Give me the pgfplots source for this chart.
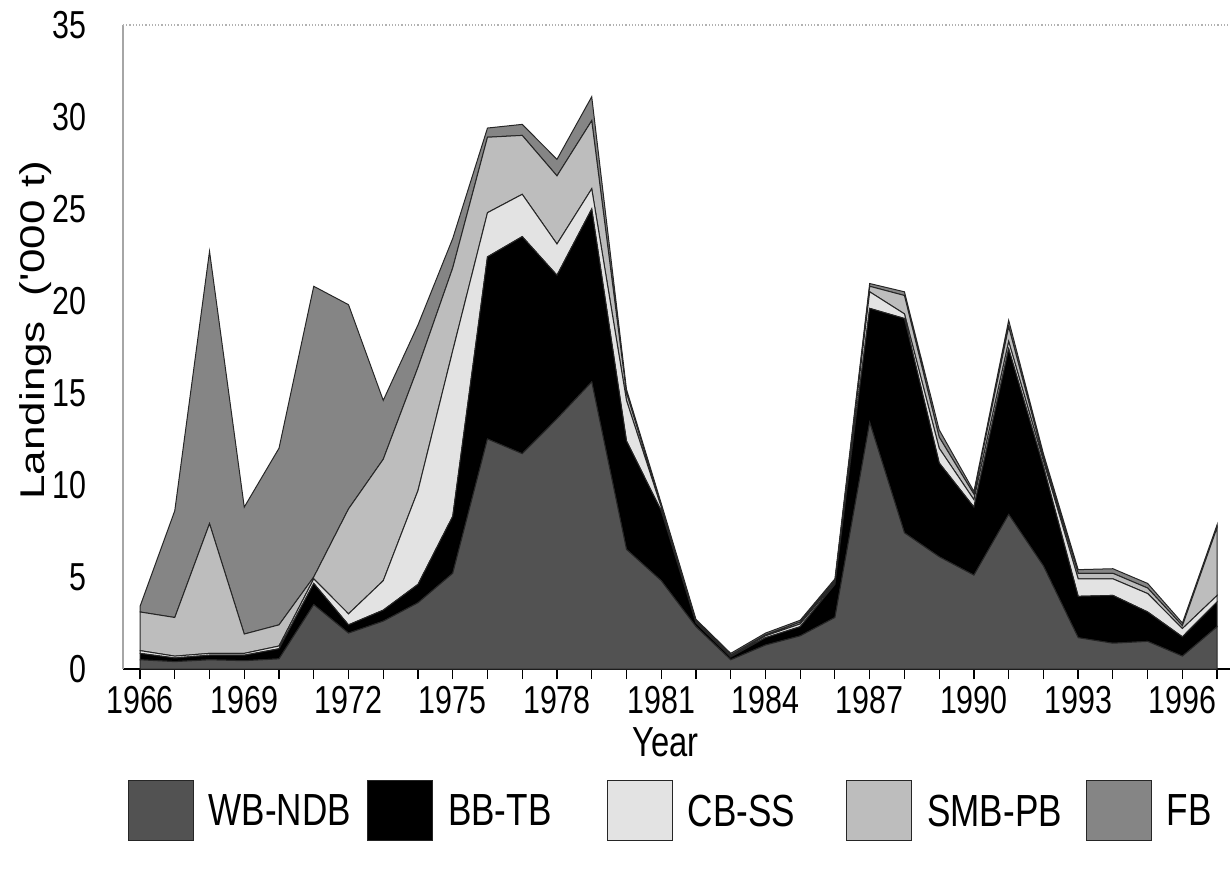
\documentclass[border=0pt]{standalone}
\usepackage{graphicx}
\usepackage{fontspec}
\setmainfont{Liberation Sans}[FakeStretch=0.78]
\newfontfamily\plainfont{Liberation Sans}
\usepackage{pgfplots}
\usepackage{pgfplotstable}
\pgfplotsset{compat=1.18}

\definecolor{wbcol}{gray}{0.32}
\definecolor{cbcol}{gray}{0.89}
\definecolor{smbcol}{gray}{0.74}
\definecolor{fbcol}{gray}{0.52}

% landings by area ('000 t), stacked bottom to top
\pgfplotstableread{
year wb   bb    cb   smb  fb
1966 0.5  0.35  0.15 2.1  0.3
1967 0.4  0.2   0.1  2.1  5.8
1968 0.5  0.25  0.1  7.05 14.8
1969 0.45 0.3   0.1  1.05 6.9
1970 0.55 0.55  0.15 1.15 9.6
1971 3.5  1.15  0.25 0.1  15.8
1972 1.95 0.45  0.6  5.7  11.1
1973 2.6  0.6   1.6  6.6  3.2
1974 3.6  1.0   5.1  6.7  2.3
1975 5.2  3.1   9.0  4.5  1.6
1976 12.5 9.9   2.4  4.1  0.5
1977 11.7 11.8  2.3  3.2  0.6
1978 13.6 7.8   1.7  3.7  0.9
1979 15.6 9.4   1.1  3.7  1.3
1980 6.5  5.9   2.2  0.4  0.2
1981 4.8  3.8   0.2  0.1  0.1
1982 2.3  0.2   0.05 0.05 0.1
1983 0.5  0.15  0.05 0.05 0.1
1984 1.3  0.4   0.1  0.05 0.1
1985 1.8  0.5   0.15 0.1  0.1
1986 2.8  1.8   0.1  0.1  0.1
1987 13.4 6.2   0.9  0.3  0.15
1988 7.4  11.65 0.25 1.0  0.2
1989 6.1  5.1   0.8  0.6  0.4
1990 5.1  3.7   0.4  0.3  0.15
1991 8.4  9.0   0.4  0.8  0.35
1992 5.6  5.4   0.3  0.2  0.2
1993 1.7  2.25  0.95 0.3  0.2
1994 1.4  2.6   0.9  0.3  0.25
1995 1.5  1.6   1.0  0.3  0.25
1996 0.7  1.05  0.45 0.15 0.15
1997 2.3  1.35  0.35 3.7  0.15
}\landings

\begin{document}
\begin{tikzpicture}
\useasboundingbox (-61.5pt,-100pt) rectangle (553.5pt,334.5pt);
\begin{axis}[
    scale only axis,
    width=553.5pt, height=322pt,
    at={(0,0)}, anchor=south west,
    xmin=1965.51, xmax=1997.37,
    ymin=0, ymax=35,
    clip=false,
    axis lines*=left,
    x axis line style={black, line width=0.8pt},
    y axis line style={gray!70, line width=0.5pt},
    xtick={1966,1969,...,1996},
    minor xtick={1966,...,1997},
    ytick={0,5,...,35},
    tick align=outside,
    major tick length=5pt, minor tick length=5pt,
    xtick style={black, line width=0.6pt},
    minor tick style={black, line width=0.6pt},
    ytick style={draw=none},
    /pgf/number format/1000 sep={},
    /pgf/number format/assume math mode=true,
    tick label style={font=\fontsize{19.5}{23}\selectfont},
    yticklabel style={xshift=-10pt},
    xlabel={Year},
    xlabel style={font=\fontsize{21}{25}\selectfont,
        at={(axis description cs:0.49,-0.113)}, anchor=center},
    ylabel={\scalebox{1}[0.78]{\plainfont\fontsize{22}{26}\selectfont Landings\ \ (\textquotesingle 000 t)}},
    ylabel style={at={(axis description cs:-0.079,0.526)}, anchor=center},
    stack plots=y,
    every axis plot/.append style={draw=black!85, line width=0.5pt},
    legend columns=5,
    legend image code/.code={\fill[#1] (0pt,-14pt) rectangle (32.5pt,16pt);},
    legend style={
        at={(axis description cs:0,0)}, anchor=west,
        xshift=2.25pt, yshift=-70.5pt,
        draw=none, fill=none, inner sep=0pt, outer sep=0pt,
        font=\fontsize{22.5}{23}\selectfont,
        nodes={inner sep=0pt, text width=79.3pt, align=left},
        /tikz/every odd column/.append style={column sep=7.5pt},
    },
]
\addplot[fill=wbcol]  table[x=year, y=wb]  {\landings} \closedcycle;
\addplot[fill=black]  table[x=year, y=bb]  {\landings} \closedcycle;
\addplot[fill=cbcol]  table[x=year, y=cb]  {\landings} \closedcycle;
\addplot[fill=smbcol] table[x=year, y=smb] {\landings} \closedcycle;
\addplot[fill=fbcol]  table[x=year, y=fb]  {\landings} \closedcycle;
\legend{WB-NDB, BB-TB, CB-SS, SMB-PB, FB}
\draw[gray!60, densely dotted, line width=0.6pt] (rel axis cs:0,1) -- (rel axis cs:1,1);
\end{axis}
\end{tikzpicture}
\end{document}
